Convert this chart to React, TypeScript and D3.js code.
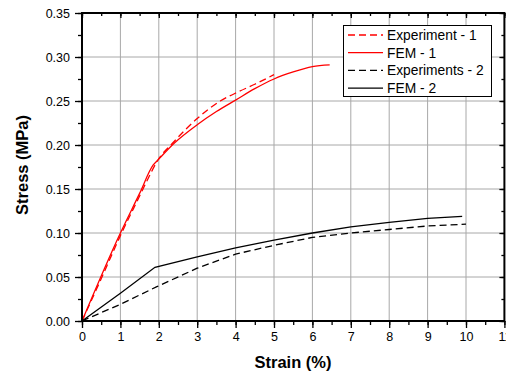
import React, { useEffect, useRef } from 'react';
import * as d3 from 'd3';

// Values
const strainExp1 = [0, 0.5, 1, 1.5, 1.7, 1.95, 2.4, 3, 3.6, 4.1, 4.5, 5.0];
const stressExp1 = [0, 0.048, 0.097, 0.142, 0.160, 0.181, 0.204, 0.230, 0.250, 0.261, 0.269, 0.280];

const strainFem1 = [0, 1, 1.5, 1.85, 2.0, 2.4, 3, 3.5, 4, 4.5, 5, 5.5, 6, 6.45];
const stressFem1 = [0, 0.1, 0.145, 0.177, 0.184, 0.202, 0.223, 0.238, 0.251, 0.264, 0.275, 0.283, 0.289, 0.291];

const strainExp2 = [0, 1, 1.95, 3, 4, 5, 6, 7, 8, 9, 10];
const stressExp2 = [0, 0.019, 0.039, 0.060, 0.076, 0.086, 0.095, 0.100, 0.104, 0.108, 0.110];

const strainFem2 = [0, 1, 1.9, 3, 4, 5, 6, 7, 8, 9, 9.9];
const stressFem2 = [0, 0.0315, 0.061, 0.073, 0.083, 0.092, 0.100, 0.107, 0.112, 0.1167, 0.119];

const xTicks = [0, 1, 2, 3, 4, 5, 6, 7, 8, 9, 10, 11];
const yTicks = [0, 0.05, 0.1, 0.15, 0.2, 0.25, 0.3, 0.35];

const seriesNames = ['Experiment - 1', 'FEM - 1', 'Experiments - 2', 'FEM - 2'];
const seriesColors = ['#ff0000', '#ff0000', '#000000', '#000000'];
const seriesDashed = [true, false, true, false];
const seriesSmooth = [true, true, false, false];

const App = () => {
  const ref = useRef(null);

  useEffect(() => {
    const svg = d3.select(ref.current);
    svg.selectAll('*').remove();

    const left = 82, right = 504.4, top = 13, bottom = 321;

    const x = d3.scaleLinear().domain([0, 11]).range([left, right]);
    const y = d3.scaleLinear().domain([0, 0.35]).range([bottom, top]);

    svg.append('rect').attr('width', 506).attr('height', 374).attr('fill', '#fff');

    // gridlines
    const grid = svg.append('g').attr('stroke', '#a8a8a8').attr('stroke-width', 1);
    xTicks.slice(1, -1).forEach((t) => {
      grid.append('line').attr('x1', x(t)).attr('x2', x(t)).attr('y1', top).attr('y2', bottom);
    });
    yTicks.slice(1, -1).forEach((t) => {
      grid.append('line').attr('x1', left).attr('x2', right).attr('y1', y(t)).attr('y2', y(t));
    });

    // curves
    const series = [
      [strainExp1, stressExp1],
      [strainFem1, stressFem1],
      [strainExp2, stressExp2],
      [strainFem2, stressFem2],
    ];
    series.forEach(([xs, ys], i) => {
      const pts = xs.map((v, j) => [v, ys[j]] as [number, number]);
      const line = d3.line<[number, number]>()
        .x((d) => x(d[0]))
        .y((d) => y(d[1]))
        .curve(seriesSmooth[i] ? d3.curveMonotoneX : d3.curveLinear);
      svg.append('path')
        .datum(pts)
        .attr('fill', 'none')
        .attr('stroke', seriesColors[i])
        .attr('stroke-width', 1.3)
        .attr('stroke-dasharray', seriesDashed[i] ? '7,4' : null)
        .attr('d', line);
    });

    // axes
    const font = 'Liberation Sans, Arial, sans-serif';
    const xMinor = d3.range(0, 11.01, 0.5);
    const yMinor = d3.range(0, 0.3501, 0.025);

    const bottomAxis = svg.append('g')
      .attr('transform', `translate(0,${bottom})`)
      .call(d3.axisBottom(x).tickValues(xTicks).tickSize(7).tickPadding(4.5).tickFormat(d3.format('d')));
    const bottomMinor = svg.append('g')
      .attr('transform', `translate(0,${bottom})`)
      .call(d3.axisBottom(x).tickValues(xMinor).tickSize(4).tickFormat(() => ''));
    const leftAxis = svg.append('g')
      .attr('transform', `translate(${left},0)`)
      .call(d3.axisLeft(y).tickValues(yTicks).tickSize(7).tickPadding(5).tickFormat(d3.format('.2f')));
    const leftMinor = svg.append('g')
      .attr('transform', `translate(${left},0)`)
      .call(d3.axisLeft(y).tickValues(yMinor).tickSize(4).tickFormat(() => ''));
    const topAxis = svg.append('g')
      .attr('transform', `translate(0,${top})`)
      .call(d3.axisBottom(x).tickValues(xTicks).tickSize(5).tickFormat(() => ''));
    const topMinor = svg.append('g')
      .attr('transform', `translate(0,${top})`)
      .call(d3.axisBottom(x).tickValues(xMinor).tickSize(3).tickFormat(() => ''));
    const rightAxis = svg.append('g')
      .attr('transform', `translate(${right},0)`)
      .call(d3.axisLeft(y).tickValues(yTicks).tickSize(5).tickFormat(() => ''));
    const rightMinor = svg.append('g')
      .attr('transform', `translate(${right},0)`)
      .call(d3.axisLeft(y).tickValues(yMinor).tickSize(3).tickFormat(() => ''));

    [bottomAxis, bottomMinor, leftAxis, leftMinor, topAxis, topMinor, rightAxis, rightMinor].forEach((g) => {
      g.select('.domain').remove();
      g.selectAll('line').attr('stroke', '#000').attr('stroke-width', 1.3);
      g.selectAll('text').attr('font-family', font).attr('font-size', 12.5).attr('fill', '#000');
    });
    // top ticks point inward (down), right ticks point inward (left)
    topAxis.selectAll('line').attr('y2', 5);
    topMinor.selectAll('line').attr('y2', 3);
    rightAxis.selectAll('line').attr('x2', -5);
    rightMinor.selectAll('line').attr('x2', -3);

    // frame
    svg.append('rect')
      .attr('x', left).attr('y', top)
      .attr('width', right - left).attr('height', bottom - top)
      .attr('fill', 'none').attr('stroke', '#000').attr('stroke-width', 2);

    // axis titles
    svg.append('text')
      .attr('x', 293).attr('y', 368)
      .attr('text-anchor', 'middle')
      .attr('font-family', font).attr('font-weight', 'bold').attr('font-size', 16.5)
      .text('Strain (%)');
    svg.append('text')
      .attr('transform', `translate(28,${(top + bottom) / 2 - 2}) rotate(-90)`)
      .attr('text-anchor', 'middle')
      .attr('font-family', font).attr('font-weight', 'bold').attr('font-size', 16.5)
      .text('Stress (MPa)');

    // legend
    const lg = svg.append('g');
    lg.append('rect')
      .attr('x', 343.5).attr('y', 25.5).attr('width', 148).attr('height', 71)
      .attr('fill', '#fff').attr('stroke', '#000').attr('stroke-width', 1);
    seriesNames.forEach((name, i) => {
      const ly = 35 + i * 17.7;
      lg.append('line')
        .attr('x1', 348).attr('x2', 383).attr('y1', ly).attr('y2', ly)
        .attr('stroke', seriesColors[i]).attr('stroke-width', 1.3)
        .attr('stroke-dasharray', seriesDashed[i] ? '7,4' : null);
      lg.append('text')
        .attr('x', 387).attr('y', ly).attr('dy', '0.36em')
        .attr('font-family', font).attr('font-size', 13.8)
        .text(name);
    });
  }, []);

  return (
    <svg
      ref={ref}
      width={506}
      height={374}
      style={{ position: 'absolute', left: 0, top: 0 }}
    />
  );
};

export default App;
